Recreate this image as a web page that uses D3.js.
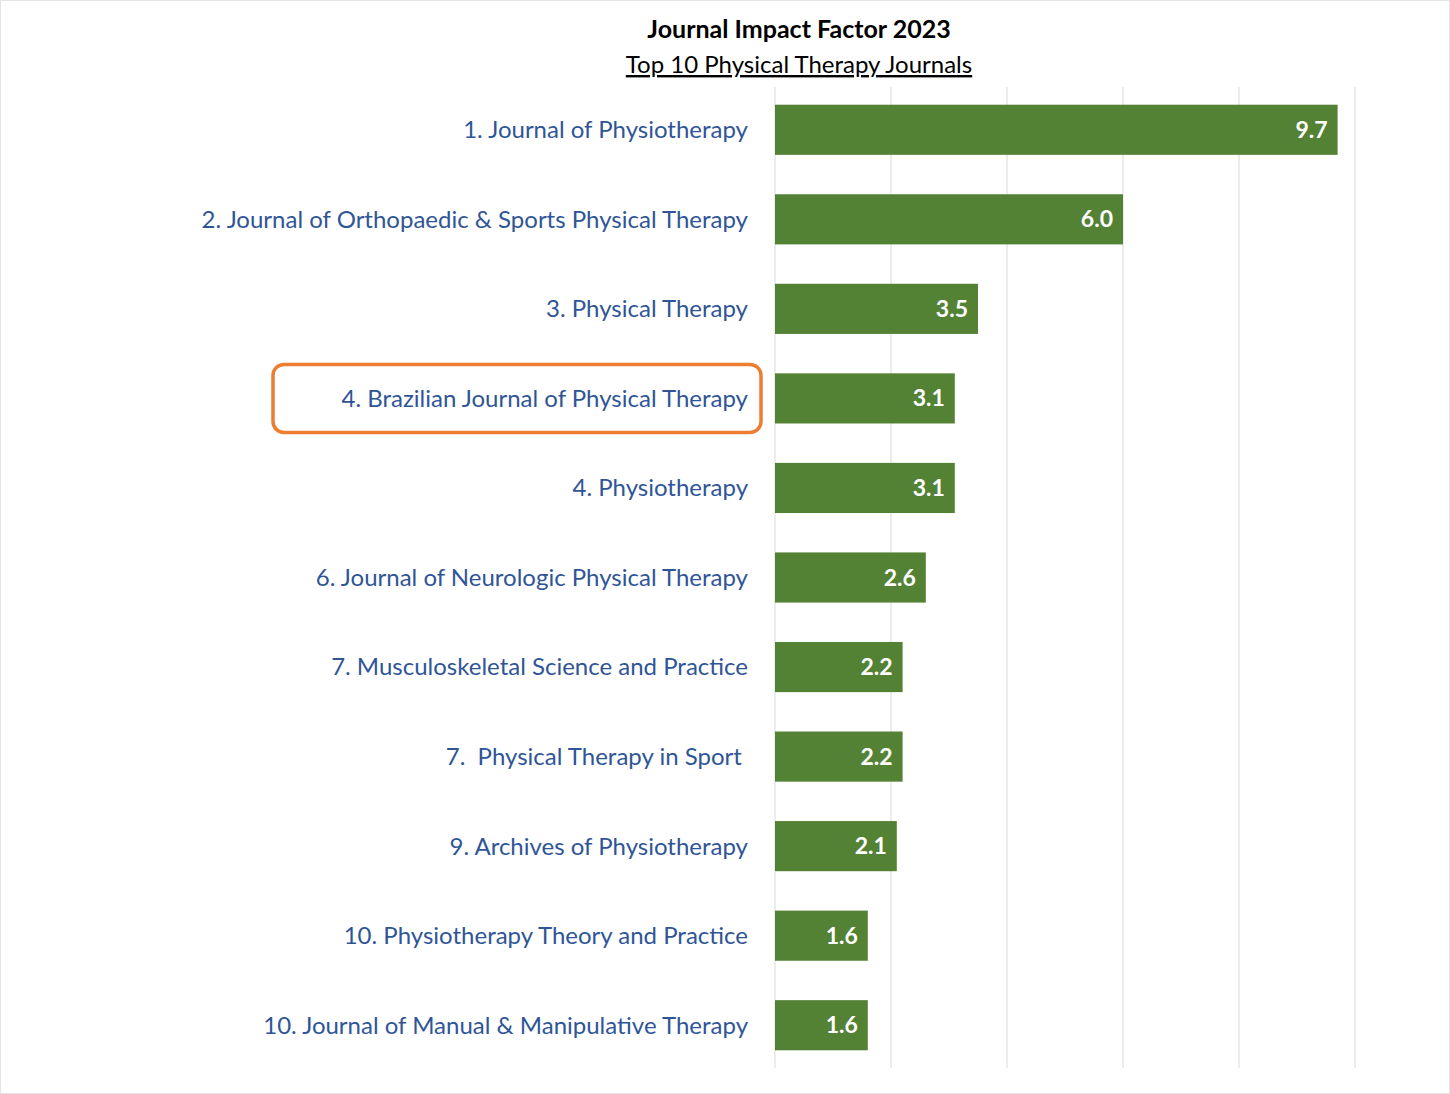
<!DOCTYPE html>
<html>
<head>
<meta charset="utf-8">
<script src="https://cdn.jsdelivr.net/npm/d3@7"></script>
<style>
  body { margin: 0; background: #fff; }
  text { font-family: Lato, "Open Sans", sans-serif; white-space: pre; }
</style>
</head>
<body>
<svg id="chart" width="1450" height="1094"></svg>
<script>
const journals = [
  "1. Journal of Physiotherapy",
  "2. Journal of Orthopaedic & Sports Physical Therapy",
  "3. Physical Therapy",
  "4. Brazilian Journal of Physical Therapy",
  "4. Physiotherapy",
  "6. Journal of Neurologic Physical Therapy",
  "7. Musculoskeletal Science and Practice",
  "7.  Physical Therapy in Sport ",
  "9. Archives of Physiotherapy",
  "10. Physiotherapy Theory and Practice",
  "10. Journal of Manual & Manipulative Therapy"
]
const impact = [9.7, 6.0, 3.5, 3.1, 3.1, 2.6, 2.2, 2.2, 2.1, 1.6, 1.6]
const gridTicks = [0, 2, 4, 6, 8, 10]
const highlighted = 3

const svg = d3.select("#chart")

// faint frame around the picture
svg.append("rect").attr("x", 0.5).attr("y", 0.5).attr("width", 1449).attr("height", 1093)
  .attr("fill", "none").attr("stroke", "#e4e4e4")

const x = d3.scaleLinear().domain([0, 10]).range([775, 1355])
const y = d3.scaleBand().domain(d3.range(journals.length)).range([85, 1070]).paddingInner(0.44).paddingOuter(0.22)

svg.append("g").selectAll("line").data(gridTicks).join("line")
  .attr("x1", d => x(d)).attr("x2", d => x(d))
  .attr("y1", 87).attr("y2", 1068)
  .attr("stroke", "#d9d9d9").attr("stroke-width", 1)

svg.append("g").selectAll("rect").data(impact).join("rect")
  .attr("x", x(0)).attr("y", (d, i) => y(i))
  .attr("width", d => x(d) - x(0)).attr("height", y.bandwidth())
  .attr("fill", "#548235")

svg.append("g").selectAll("text").data(impact).join("text")
  .attr("x", d => x(d) - 10).attr("y", (d, i) => y(i) + y.bandwidth() / 2)
  .attr("dy", "0.35em").attr("text-anchor", "end")
  .attr("fill", "#fff").attr("font-weight", "bold").attr("font-size", 23)
  .text(d => d.toFixed(1))

svg.append("g").selectAll("text").data(journals).join("text")
  .attr("x", 748).attr("y", (d, i) => y(i) + y.bandwidth() / 2)
  .attr("dy", "0.35em").attr("text-anchor", "end")
  .attr("fill", "#2f5597").attr("font-size", 24)
  .text(d => d)

// orange box around the Brazilian journal
svg.append("rect")
  .attr("x", 273).attr("y", y(highlighted) + y.bandwidth() / 2 - 34)
  .attr("width", 488).attr("height", 68).attr("rx", 11)
  .attr("fill", "none").attr("stroke", "#ed7d31").attr("stroke-width", 3.5)

svg.append("text").attr("x", 799).attr("y", 38).attr("text-anchor", "middle")
  .attr("font-size", 25).attr("font-weight", "bold").attr("fill", "#000")
  .text("Journal Impact Factor 2023")
svg.append("text").attr("x", 799).attr("y", 73).attr("text-anchor", "middle")
  .attr("font-size", 24).attr("fill", "#000").attr("text-decoration", "underline")
  .text("Top 10 Physical Therapy Journals")
</script>
</body>
</html>
